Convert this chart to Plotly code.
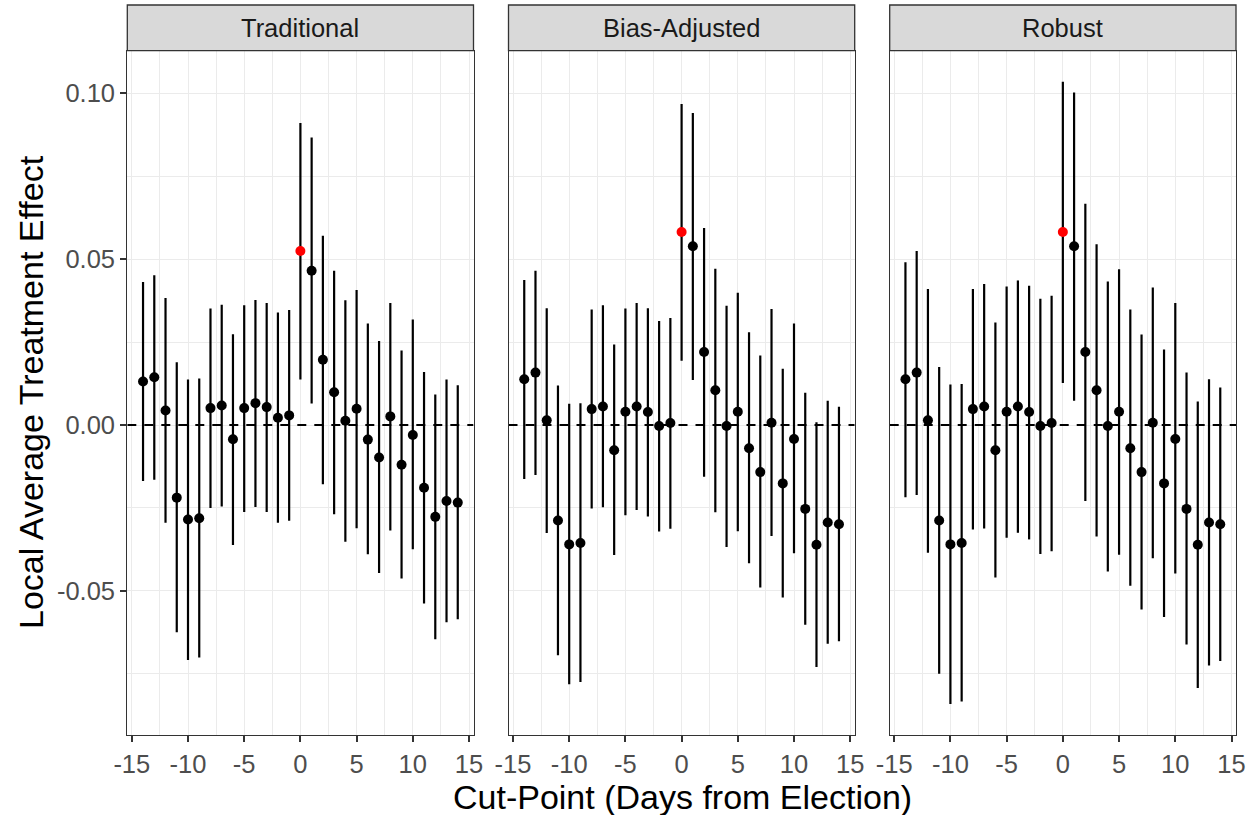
import plotly.graph_objects as go

cutpoints = list(range(-14, 15))
panel_names = ["Traditional", "Bias-Adjusted", "Robust"]

trad_est = [0.0131, 0.0144, 0.0044, -0.0219, -0.0285, -0.0281, 0.0051, 0.0059, -0.0043, 0.0051,
            0.0066, 0.0054, 0.0022, 0.0029, 0.0525, 0.0465, 0.0197, 0.0099, 0.0013, 0.0049,
            -0.0044, -0.0098, 0.0026, -0.0120, -0.0030, -0.0189, -0.0277, -0.0229, -0.0234]
trad_lo = [-0.0169, -0.0165, -0.0295, -0.0625, -0.0709, -0.0701, -0.0250, -0.0246, -0.0362, -0.0262,
           -0.0247, -0.0262, -0.0295, -0.0289, 0.0137, 0.0065, -0.0179, -0.0269, -0.0352, -0.0311,
           -0.0390, -0.0446, -0.0318, -0.0463, -0.0375, -0.0538, -0.0646, -0.0595, -0.0586]
trad_hi = [0.0431, 0.0452, 0.0383, 0.0189, 0.0137, 0.0140, 0.0351, 0.0363, 0.0274, 0.0361,
           0.0377, 0.0368, 0.0339, 0.0347, 0.0911, 0.0867, 0.0571, 0.0465, 0.0376, 0.0407,
           0.0306, 0.0253, 0.0368, 0.0225, 0.0318, 0.0160, 0.0092, 0.0137, 0.0120]

bias_est = [0.0138, 0.0158, 0.0014, -0.0288, -0.0360, -0.0356, 0.0048, 0.0056, -0.0076, 0.0040,
            0.0056, 0.0039, -0.0003, 0.0006, 0.0582, 0.0539, 0.0220, 0.0105, -0.0003, 0.0040,
            -0.0070, -0.0142, 0.0007, -0.0176, -0.0042, -0.0253, -0.0361, -0.0294, -0.0299]
bias_lo = [-0.0163, -0.0151, -0.0326, -0.0694, -0.0782, -0.0775, -0.0252, -0.0248, -0.0392, -0.0272,
           -0.0256, -0.0276, -0.0321, -0.0313, 0.0194, 0.0136, -0.0156, -0.0263, -0.0368, -0.0320,
           -0.0417, -0.0490, -0.0335, -0.0520, -0.0387, -0.0602, -0.0730, -0.0660, -0.0652]
bias_hi = [0.0437, 0.0465, 0.0352, 0.0119, 0.0064, 0.0066, 0.0348, 0.0361, 0.0243, 0.0351,
           0.0368, 0.0352, 0.0314, 0.0323, 0.0968, 0.0941, 0.0594, 0.0471, 0.0360, 0.0399,
           0.0280, 0.0210, 0.0350, 0.0170, 0.0306, 0.0097, 0.0008, 0.0073, 0.0055]

robust_est = [0.0138, 0.0158, 0.0014, -0.0288, -0.0360, -0.0356, 0.0048, 0.0056, -0.0076, 0.0040,
              0.0056, 0.0039, -0.0003, 0.0006, 0.0582, 0.0539, 0.0220, 0.0105, -0.0003, 0.0040,
              -0.0070, -0.0142, 0.0007, -0.0176, -0.0042, -0.0253, -0.0361, -0.0294, -0.0299]
robust_lo = [-0.0218, -0.0211, -0.0385, -0.0750, -0.0841, -0.0834, -0.0315, -0.0312, -0.0460, -0.0340,
             -0.0325, -0.0345, -0.0389, -0.0381, 0.0127, 0.0073, -0.0229, -0.0336, -0.0442, -0.0391,
             -0.0485, -0.0556, -0.0402, -0.0579, -0.0448, -0.0662, -0.0793, -0.0725, -0.0712]
robust_hi = [0.0491, 0.0525, 0.0410, 0.0175, 0.0122, 0.0124, 0.0410, 0.0425, 0.0309, 0.0418,
             0.0436, 0.0420, 0.0381, 0.0390, 0.1035, 0.1003, 0.0667, 0.0545, 0.0433, 0.0470,
             0.0348, 0.0273, 0.0415, 0.0228, 0.0368, 0.0158, 0.0071, 0.0138, 0.0113]

x_tickvals = [-15, -10, -5, 0, 5, 10, 15]
x_ticktext = ["-15", "-10", "-5", "0", "5", "10", "15"]
y_tickvals = [-0.05, 0.0, 0.05, 0.10]
y_ticktext = ["-0.05", "0.00", "0.05", "0.10"]

panels = [(trad_est, trad_lo, trad_hi), (bias_est, bias_lo, bias_hi), (robust_est, robust_lo, robust_hi)]

W, H = 1260, 815
px_domains = [(127.3, 473.5), (508.5, 854.7), (889.7, 1236.0)]
y_bot_px, y_top_px, strip_top_px = 735.0, 50.7, 5.0
ydom = [(H - y_bot_px) / H, (H - y_top_px) / H]

all_lo = trad_lo + bias_lo + robust_lo
all_hi = trad_hi + bias_hi + robust_hi
ymin, ymax = min(all_lo), max(all_hi)
pad = (ymax - ymin) * 0.05
yrange = [ymin - pad, ymax + pad]
xrange = [-15.4, 15.4]

fig = go.Figure()
grid_major = "#EBEBEB"
frame = "#333333"
font_family = "Liberation Sans, Arial, sans-serif"
tick_size = 25.5
title_size = 34

for i, (est, lo, hi) in enumerate(panels):
    n = i + 1
    xa = "x" if n == 1 else f"x{n}"
    ya = "y" if n == 1 else f"y{n}"
    colors = ["#FF0000" if c == 0 else "#000000" for c in cutpoints]
    fig.add_trace(go.Scatter(
        x=xrange, y=[0, 0], mode="lines",
        line=dict(color="#000000", width=2, dash="9px,8px"),
        xaxis=xa, yaxis=ya, showlegend=False, hoverinfo="skip", cliponaxis=True))
    fig.add_trace(go.Scatter(
        x=cutpoints, y=est, mode="markers",
        marker=dict(color=colors, size=10, line=dict(width=0)),
        error_y=dict(type="data", symmetric=False,
                     array=[h - e for h, e in zip(hi, est)],
                     arrayminus=[e - l for e, l in zip(est, lo)],
                     color="#000000", thickness=2.2, width=0),
        xaxis=xa, yaxis=ya, showlegend=False, hoverinfo="skip"))
    d = px_domains[i]
    xkey = "xaxis" if n == 1 else f"xaxis{n}"
    ykey = "yaxis" if n == 1 else f"yaxis{n}"
    fig.layout[xkey] = dict(
        domain=[d[0] / W, d[1] / W], range=xrange, anchor=ya, automargin=False,
        tickvals=x_tickvals, ticktext=x_ticktext,
        ticks="outside", ticklen=6, tickwidth=1.5, tickcolor=frame,
        tickfont=dict(size=tick_size, color="#4D4D4D", family=font_family),
        showgrid=True, gridcolor=grid_major, gridwidth=1.3,
        minor=dict(dtick=2.5, tick0=0, showgrid=True, gridcolor=grid_major, gridwidth=0.7, ticks=""),
        showline=True, linecolor=frame, linewidth=1.3, mirror=True, zeroline=False)
    fig.layout[ykey] = dict(
        domain=ydom, range=yrange, anchor=xa, automargin=False,
        tickvals=y_tickvals, ticktext=y_ticktext, showticklabels=(n == 1),
        ticks="outside" if n == 1 else "", ticklen=6, tickwidth=1.5, tickcolor=frame,
        tickfont=dict(size=tick_size, color="#4D4D4D", family=font_family),
        showgrid=True, gridcolor=grid_major, gridwidth=1.3,
        minor=dict(dtick=0.025, tick0=0, showgrid=True, gridcolor=grid_major, gridwidth=0.7, ticks=""),
        showline=True, linecolor=frame, linewidth=1.3, mirror=True, zeroline=False)
    fig.add_shape(type="rect", xref="paper", yref="paper",
                  x0=d[0] / W, x1=d[1] / W, y0=(H - y_top_px) / H, y1=(H - strip_top_px) / H,
                  fillcolor="#D9D9D9", line=dict(color=frame, width=1.3))
    fig.add_annotation(x=(d[0] + d[1]) / 2 / W, y=(H - (y_top_px + strip_top_px) / 2) / H,
                       xref="paper", yref="paper", text=panel_names[i], showarrow=False,
                       font=dict(size=tick_size, color="#1A1A1A", family=font_family),
                       xanchor="center", yanchor="middle")

fig.add_annotation(x=682 / W, y=(H - 797) / H, xref="paper", yref="paper",
                   text="Cut-Point (Days from Election)", showarrow=False,
                   font=dict(size=title_size, color="#000000", family=font_family),
                   xanchor="center", yanchor="middle")
fig.add_annotation(x=31 / W, y=(H - 392) / H, xref="paper", yref="paper",
                   text="Local Average Treatment Effect", showarrow=False, textangle=-90,
                   font=dict(size=title_size, color="#000000", family=font_family),
                   xanchor="center", yanchor="middle")

fig.update_layout(width=W, height=H, margin=dict(l=0, r=0, t=0, b=0),
                  plot_bgcolor="white", paper_bgcolor="white", showlegend=False)
fig.write_html("out.html")
